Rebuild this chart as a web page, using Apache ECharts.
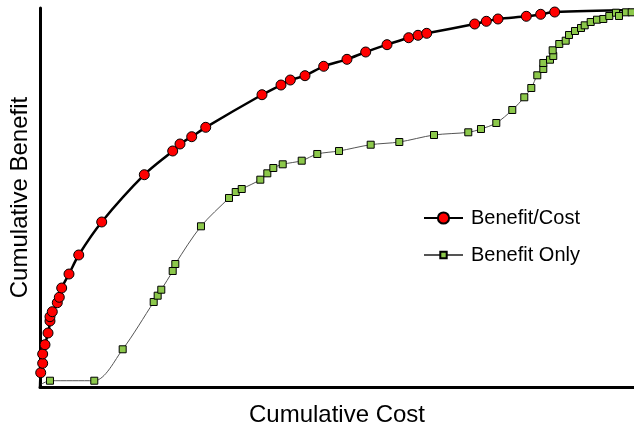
<!DOCTYPE html>
<html>
<head>
<meta charset="utf-8">
<script src="https://cdn.jsdelivr.net/npm/echarts@6/dist/echarts.min.js"></script>
<style>
  html, body { margin: 0; padding: 0; background: #fff; }
  #main { width: 634px; height: 427px; }
</style>
</head>
<body>
<div id="main"></div>
<script>
// 数据：累计成本 / 累计收益 (0-100)
var costBC = [0, 0.12, 0.45, 0.45, 0.84, 1.35, 1.68, 1.68, 2.07, 2.91, 3.25, 3.65, 4.88, 6.52, 10.39,
  17.56, 22.34, 23.57, 25.54, 27.9, 37.37, 40.57, 42.14, 44.61, 47.76, 51.68, 54.83, 58.42,
  62.07, 63.64, 65.1, 73.18, 75.14, 77.1, 81.87, 84.29, 86.65, 100];
var benefitBC = [0, 3.77, 6.25, 8.71, 11.16, 14.25, 17.41, 18.55, 19.87, 22.24, 23.67, 26.12, 29.81, 34.83, 43.54,
  56.01, 62.27, 64.12, 66.04, 68.52, 77.12, 79.68, 81.0, 82.14, 84.62, 86.46, 88.39, 90.32,
  92.16, 92.8, 93.32, 95.78, 96.49, 97.1, 97.81, 98.34, 98.94, 99.47];

var costBO = [0, 1.68, 9.14, 13.92, 19.14, 19.81, 20.42, 22.34, 22.78, 27.1, 31.82, 32.95, 33.96,
  37.09, 38.27, 39.28, 40.86, 44.06, 46.68, 50.34, 55.67, 60.49, 66.33, 72.1, 74.24, 76.82,
  79.51, 81.53, 82.71, 83.72, 84.73, 84.73, 85.86, 86.41, 86.31, 87.42, 88.5, 89.06, 90.07,
  91.08, 91.7, 92.71, 93.77, 94.83, 95.84, 96.97, 97.47, 98.65, 99.61];
var benefitBO = [0.53, 1.66, 1.66, 9.95, 22.43, 24.09, 25.67, 30.61, 32.45, 42.4, 49.87, 51.45, 52.24,
  54.7, 56.38, 57.78, 58.76, 59.71, 61.48, 62.27, 63.93, 64.64, 66.49, 67.2, 68.07, 69.66,
  73.09, 76.44, 78.89, 82.24, 83.91, 85.49, 86.36, 87.34, 88.84, 90.5, 91.37, 92.88, 93.93,
  94.72, 95.43, 96.31, 96.91, 97.1, 97.89, 98.76, 97.89, 98.86, 98.86];

function pairs(xs, ys) {
  var out = [];
  for (var i = 0; i < xs.length; i++) {
    // 端点只画线，不画标记
    if (i === 0 || (xs === costBC && i === xs.length - 1)) {
      out.push({ value: [xs[i], ys[i]], symbol: 'none' });
    } else {
      out.push([xs[i], ys[i]]);
    }
  }
  return out;
}

var font = 'Liberation Sans, Arial, sans-serif';
var myChart = echarts.init(document.getElementById('main'));
var option = {
  animation: false,
  backgroundColor: '#fff',
  grid: { left: 40, right: 0, top: 8, bottom: 40, outerBoundsMode: 'none' },
  legend: [
    {
      data: ['Benefit/Cost'],
      left: 418, top: 203,
      itemWidth: 39, itemHeight: 14,
      textStyle: { fontFamily: font, fontSize: 20, color: '#000', padding: [0, 0, 0, 3] }
    },
    {
      data: ['Benefit Only'],
      left: 418, top: 240,
      itemWidth: 39, itemHeight: 8,
      textStyle: { fontFamily: font, fontSize: 20, color: '#000', padding: [0, 0, 0, 3] }
    }
  ],
  xAxis: {
    type: 'value', min: 0, max: 100,
    name: 'Cumulative Cost', nameLocation: 'middle', nameGap: 16,
    nameTextStyle: { fontFamily: font, fontSize: 24, color: '#000' },
    axisLine: { show: true, lineStyle: { color: '#000', width: 3 } },
    axisTick: { show: false }, axisLabel: { show: false }, splitLine: { show: false }
  },
  yAxis: {
    type: 'value', min: 0, max: 100,
    name: 'Cumulative Benefit', nameLocation: 'middle', nameGap: 8,
    nameTextStyle: { fontFamily: font, fontSize: 24, color: '#000' },
    axisLine: { show: true, lineStyle: { color: '#000', width: 3 } },
    axisTick: { show: false }, axisLabel: { show: false }, splitLine: { show: false }
  },
  series: [
    {
      name: 'Benefit Only',
      type: 'line',
      smooth: 0.3,
      symbol: 'rect', symbolSize: 7,
      itemStyle: { color: '#8cc84b', borderColor: '#000', borderWidth: 1 },
      lineStyle: { color: '#555', width: 1 },
      data: pairs(costBO, benefitBO)
    },
    {
      name: 'Benefit/Cost',
      type: 'line',
      smooth: 0.3,
      symbol: 'circle', symbolSize: 10,
      itemStyle: { color: '#ff0000', borderColor: '#000', borderWidth: 1 },
      lineStyle: { color: '#000', width: 2.5 },
      data: pairs(costBC, benefitBC)
    }
  ]
};
myChart.setOption(option);
</script>
</body>
</html>
